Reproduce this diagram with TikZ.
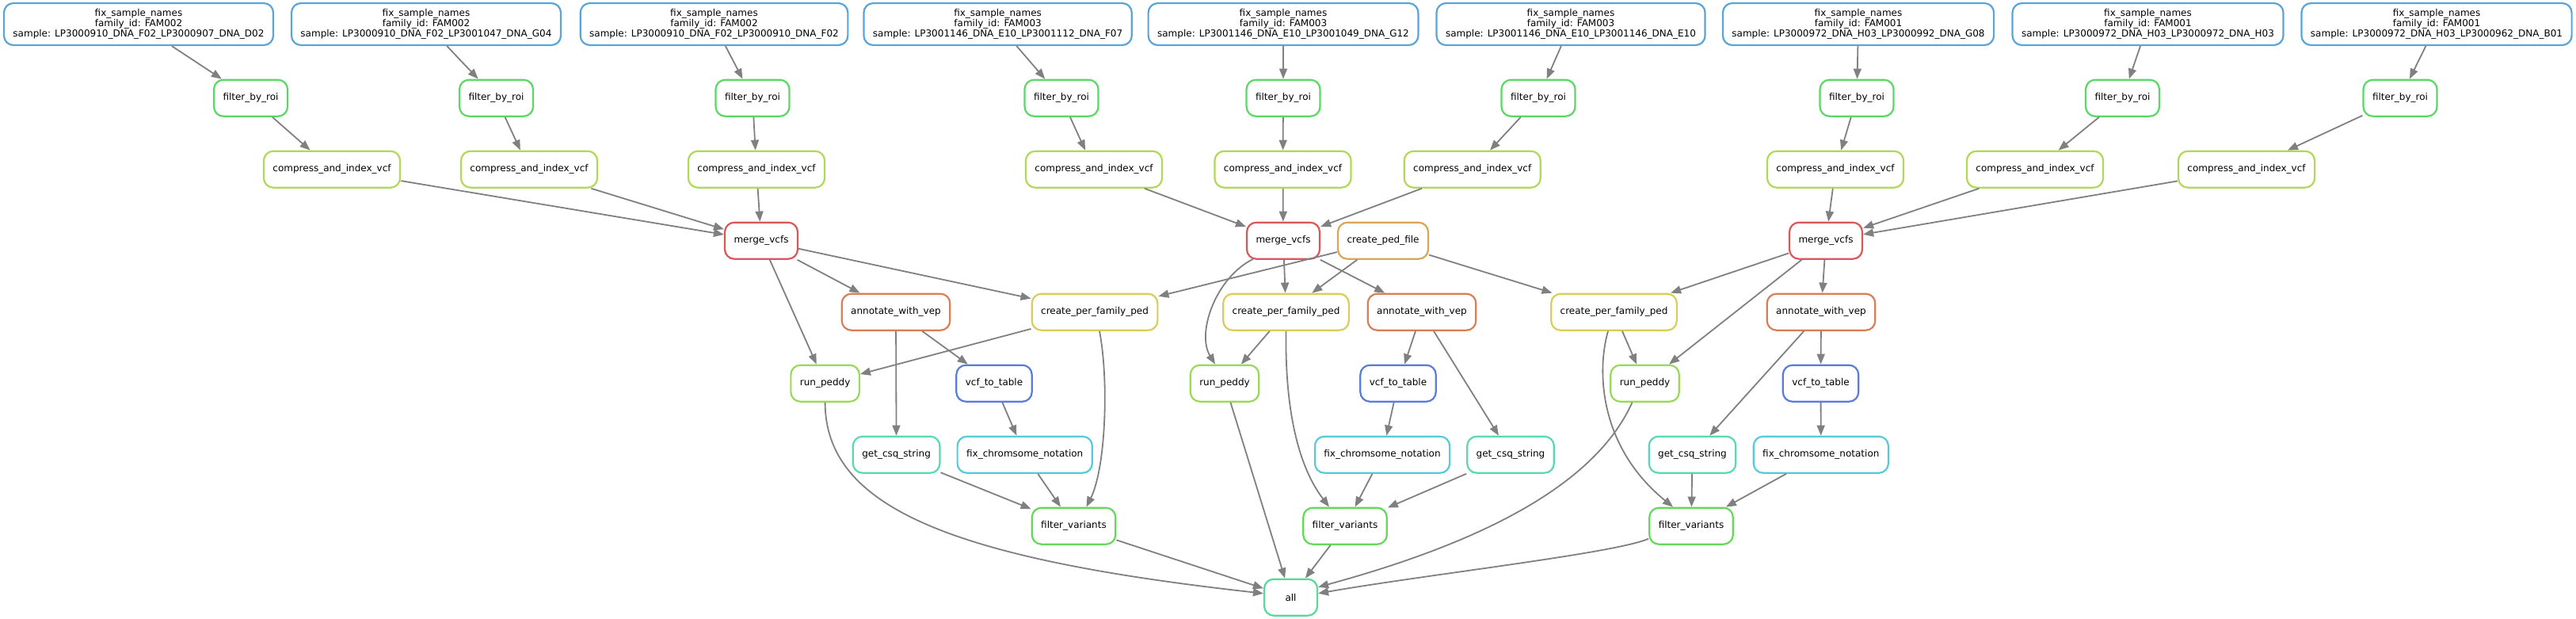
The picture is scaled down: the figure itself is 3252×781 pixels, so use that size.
\documentclass[tikz,border=0pt]{standalone}
\usepackage{fontspec}
\setmainfont{DejaVu Sans}
\usetikzlibrary{arrows.meta}
\definecolor{cfsn}{RGB}{87,165,217}
\definecolor{cfbr}{RGB}{87,217,100}
\definecolor{ccmp}{RGB}{176,217,87}
\definecolor{cmrg}{RGB}{217,87,87}
\definecolor{cped}{RGB}{217,165,87}
\definecolor{cann}{RGB}{217,126,87}
\definecolor{cpfp}{RGB}{217,204,87}
\definecolor{crpd}{RGB}{152,217,87}
\definecolor{cvcf}{RGB}{87,124,217}
\definecolor{ccsq}{RGB}{87,217,178}
\definecolor{cfch}{RGB}{87,202,217}
\definecolor{cflv}{RGB}{98,217,87}
\definecolor{call}{RGB}{87,217,154}
\definecolor{cedge}{RGB}{128,128,128}
\begin{document}
\begin{tikzpicture}[x=1pt,y=-1pt,
  base/.style={draw, line width=2.2pt, rounded corners=12pt, fill=white,
    font=\fontsize{12}{13.3}\selectfont, inner xsep=11.5pt, inner ysep=0pt,
    minimum height=46pt, minimum width=67pt, align=center},
  fsn/.style={base, draw=cfsn, minimum height=53pt},
  fbr/.style={base, draw=cfbr},
  cmp/.style={base, draw=ccmp},
  mrg/.style={base, draw=cmrg},
  ped/.style={base, draw=cped},
  ann/.style={base, draw=cann},
  pfp/.style={base, draw=cpfp},
  rpd/.style={base, draw=crpd},
  vcf/.style={base, draw=cvcf},
  csq/.style={base, draw=ccsq},
  fch/.style={base, draw=cfch},
  flv/.style={base, draw=cflv},
  allst/.style={base, draw=call},
  conn/.style={draw=cedge, line width=1.8pt, -{Triangle[length=13pt,width=10pt]}}
]
\useasboundingbox (0,0) rectangle (3252,781);
% top row
\node[fsn] (t1) at (175,30.5) {fix\_sample\_names\\family\_id: FAM002\\sample: LP3000910\_DNA\_F02\_LP3000907\_DNA\_D02};
\node[fsn] (t2) at (538,30.5) {fix\_sample\_names\\family\_id: FAM002\\sample: LP3000910\_DNA\_F02\_LP3001047\_DNA\_G04};
\node[fsn] (t3) at (901.5,30.5) {fix\_sample\_names\\family\_id: FAM002\\sample: LP3000910\_DNA\_F02\_LP3000910\_DNA\_F02};
\node[fsn] (t4) at (1259.6,30.5) {fix\_sample\_names\\family\_id: FAM003\\sample: LP3001146\_DNA\_E10\_LP3001112\_DNA\_F07};
\node[fsn] (t5) at (1620,30.5) {fix\_sample\_names\\family\_id: FAM003\\sample: LP3001146\_DNA\_E10\_LP3001049\_DNA\_G12};
\node[fsn] (t6) at (1983,30.5) {fix\_sample\_names\\family\_id: FAM003\\sample: LP3001146\_DNA\_E10\_LP3001146\_DNA\_E10};
\node[fsn] (t7) at (2346,30.5) {fix\_sample\_names\\family\_id: FAM001\\sample: LP3000972\_DNA\_H03\_LP3000992\_DNA\_G08};
\node[fsn] (t8) at (2711.5,30.5) {fix\_sample\_names\\family\_id: FAM001\\sample: LP3000972\_DNA\_H03\_LP3000972\_DNA\_H03};
\node[fsn] (t9) at (3076,30.5) {fix\_sample\_names\\family\_id: FAM001\\sample: LP3000972\_DNA\_H03\_LP3000962\_DNA\_B01};
% filter_by_roi
\node[fbr] (f1) at (316.5,123.7) {filter\_by\_roi};
\node[fbr] (f2) at (626.5,123.7) {filter\_by\_roi};
\node[fbr] (f3) at (950,123.7) {filter\_by\_roi};
\node[fbr] (f4) at (1340,123.7) {filter\_by\_roi};
\node[fbr] (f5) at (1620,123.7) {filter\_by\_roi};
\node[fbr] (f6) at (1942,123.7) {filter\_by\_roi};
\node[fbr] (f7) at (2344,123.7) {filter\_by\_roi};
\node[fbr] (f8) at (2679.5,123.7) {filter\_by\_roi};
\node[fbr] (f9) at (3030,123.7) {filter\_by\_roi};
% compress
\node[cmp] (c1) at (419,213.7) {compress\_and\_index\_vcf};
\node[cmp] (c2) at (668,213.7) {compress\_and\_index\_vcf};
\node[cmp] (c3) at (955,213.7) {compress\_and\_index\_vcf};
\node[cmp] (c4) at (1381,213.7) {compress\_and\_index\_vcf};
\node[cmp] (c5) at (1619.5,213.7) {compress\_and\_index\_vcf};
\node[cmp] (c6) at (1858.7,213.7) {compress\_and\_index\_vcf};
\node[cmp] (c7) at (2317,213.7) {compress\_and\_index\_vcf};
\node[cmp] (c8) at (2569,213.7) {compress\_and\_index\_vcf};
\node[cmp] (c9) at (2836,213.7) {compress\_and\_index\_vcf};
% merge row
\node[mrg] (m1) at (961,303.7) {merge\_vcfs};
\node[mrg] (m2) at (1620,303.7) {merge\_vcfs};
\node[ped] (cp) at (1746,303.7) {create\_ped\_file};
\node[mrg] (m3) at (2305,303.7) {merge\_vcfs};
% row 4
\node[ann] (a1) at (1131,393.7) {annotate\_with\_vep};
\node[pfp] (p1) at (1382,393.7) {create\_per\_family\_ped};
\node[pfp] (p2) at (1623.5,393.7) {create\_per\_family\_ped};
\node[ann] (a2) at (1795,393.7) {annotate\_with\_vep};
\node[pfp] (p3) at (2037.5,393.7) {create\_per\_family\_ped};
\node[ann] (a3) at (2299,393.7) {annotate\_with\_vep};
% row 5
\node[rpd] (r1) at (1041.6,483.7) {run\_peddy};
\node[vcf] (v1) at (1255,483.7) {vcf\_to\_table};
\node[rpd] (r2) at (1546,483.7) {run\_peddy};
\node[vcf] (v2) at (1765,483.7) {vcf\_to\_table};
\node[rpd] (r3) at (2076.5,483.7) {run\_peddy};
\node[vcf] (v3) at (2298.5,483.7) {vcf\_to\_table};
% row 6
\node[csq] (g1) at (1131.6,573.7) {get\_csq\_string};
\node[fch] (x1) at (1293.7,573.7) {fix\_chromsome\_notation};
\node[fch] (x2) at (1745,573.7) {fix\_chromsome\_notation};
\node[csq] (g2) at (1907,573.7) {get\_csq\_string};
\node[csq] (g3) at (2136.5,573.7) {get\_csq\_string};
\node[fch] (x3) at (2298.8,573.7) {fix\_chromsome\_notation};
% row 7
\node[flv] (v7a) at (1355.5,663.7) {filter\_variants};
\node[flv] (v7b) at (1698,663.7) {filter\_variants};
\node[flv] (v7c) at (2135,663.7) {filter\_variants};
% all
\node[allst] (all) at (1629.5,753.7) {all};
% edges top -> filter -> compress -> merge
\foreach \i in {1,...,9} {
  \draw[conn] (t\i) -- (f\i);
  \draw[conn] (f\i) -- (c\i);
}
\foreach \i in {1,2,3} {\draw[conn] (c\i) -- (m1);}
\foreach \i in {4,5,6} {\draw[conn] (c\i) -- (m2);}
\foreach \i in {7,8,9} {\draw[conn] (c\i) -- (m3);}
% family 1
\draw[conn] (m1) -- (r1);
\draw[conn] (m1) -- (a1);
\draw[conn] (m1) -- (p1);
\draw[conn] (cp) -- (p1);
\draw[conn] (p1) -- (r1);
\draw[conn] ([xshift=6pt]p1.south) .. controls (1400,480) and (1396,590) .. ([xshift=16pt]v7a.north);
\draw[conn] (a1) -- (g1);
\draw[conn] (a1) -- (v1);
\draw[conn] (v1) -- (x1);
\draw[conn] (g1) -- (v7a);
\draw[conn] (x1) -- (v7a);
\draw[conn] (r1.south) .. controls (1042,640) and (1200,705) .. ([yshift=5pt]all.west);
\draw[conn] (v7a) -- (all);
% family 2
\draw[conn] ([xshift=-38pt,yshift=1pt]m2.south) .. controls (1535,350) and (1510,420) .. ([xshift=-12pt]r2.north);
\draw[conn] (m2) -- (p2);
\draw[conn] (m2) -- (a2);
\draw[conn] (cp) -- (p2);
\draw[conn] (cp) -- (p3);
\draw[conn] (p2) -- (r2);
\draw[conn] (p2.south) .. controls (1622,520) and (1640,590) .. ([xshift=-20pt]v7b.north);
\draw[conn] (a2) -- (v2);
\draw[conn] (a2) -- (g2);
\draw[conn] (v2) -- (x2);
\draw[conn] (x2) -- (v7b);
\draw[conn] (g2) -- (v7b);
\draw[conn] (r2) -- (all);
\draw[conn] (v7b) -- (all);
% family 3
\draw[conn] (m3) -- (p3);
\draw[conn] (m3) -- (r3);
\draw[conn] (m3) -- (a3);
\draw[conn] (p3) -- (r3);
\draw[conn] ([xshift=-7.5pt]p3.south) .. controls (2015,470) and (2020,565) .. ([xshift=-23pt]v7c.north);
\draw[conn] (a3) -- (v3);
\draw[conn] (a3) -- (g3);
\draw[conn] (v3) -- (x3);
\draw[conn] (g3) -- (v7c);
\draw[conn] (x3) -- (v7c);
\draw[conn] ([xshift=-16pt]r3.south) .. controls (2010,620) and (1850,690) .. ([yshift=13pt]all.east);
\draw[conn] ([yshift=-16pt]v7c.west) .. controls (2040,698) and (1800,725) .. ([yshift=5pt]all.east);
\end{tikzpicture}
\end{document}
